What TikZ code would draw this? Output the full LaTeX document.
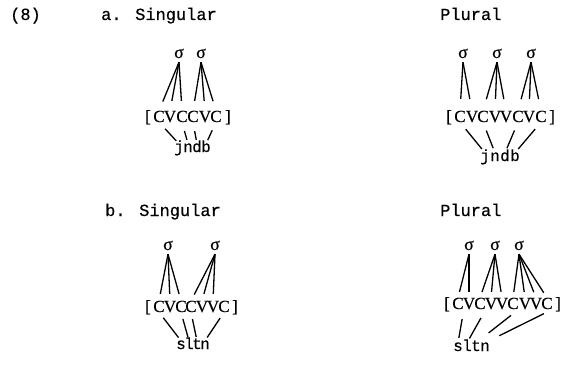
\documentclass[tikz,border=0pt]{standalone}
\usepackage{fontspec}
\setmainfont[FakeBold=0.5]{Liberation Mono}
\newfontfamily\segfont[FakeBold=0.4]{Liberation Serif}

\tikzset{
  hdr/.style={anchor=base west,inner sep=0pt,font=\fontsize{17}{20}\selectfont},
  syl/.style={anchor=base,inner sep=0pt,text height=8pt,text depth=4pt,
    font=\segfont\fontsize{18}{20}\selectfont},
  seg/.style={anchor=base,inner sep=0pt,text height=11pt,text depth=0pt,
    font=\segfont\fontsize{17}{20}\selectfont},
  root/.style={anchor=base,inner sep=0pt,text height=8pt,text depth=0pt,
    font=\fontsize{16}{20}\selectfont},
  link/.style={line width=1.3pt,shorten >=10pt},
  tie/.style={line width=1.3pt,shorten <=9pt,shorten >=4pt}
}

\begin{document}
\begin{tikzpicture}[x=1pt,y=-1pt]
 \useasboundingbox (0,0) rectangle (568,369);
 % headings
 \node[hdr] (num) at (10,20) {(8)};
 \node[hdr] (ahd) at (101,20) {a. Singular};
 \node[hdr] (aph) at (440,20) {Plural};
 \node[hdr] (bhd) at (105,216) {b. Singular};
 \node[hdr] (bph) at (440,216) {Plural};

 % a. singular
 \node[syl] (asS1) at (179,58) {σ};
 \node[syl] (asS2) at (201,58) {σ};
 \node[seg] (asL) at (148,122) {[};
 \foreach \tx/\x [count=\i] in {C/159,V/170,C/182,C/193,V/205,C/216}
   \node[seg] (as\i) at (\x,122) {\tx};
 \node[seg] (asR) at (228,122) {]};
 \foreach \tx/\x [count=\i] in {j/179,n/188,d/197,b/206}
   \node[root] (asr\i) at (\x,152) {\tx};
 \foreach \sy/\sg in {1/1,1/2,1/3,2/4,2/5,2/6}
   \draw[link] (asS\sy.south) -- (as\sg.north);
 \foreach \sg/\r in {1/1,3/2,4/3,6/4}
   \draw[tie] (as\sg.south) -- (asr\r.north);

 % a. plural
 \node[syl] (apS1) at (463,58) {σ};
 \node[syl] (apS2) at (497,58) {σ};
 \node[syl] (apS3) at (531,58) {σ};
 \node[seg] (apL) at (449,122) {[};
 \foreach \tx/\x [count=\i] in {C/460,V/472,C/483,V/495,V/506,C/518,V/529,C/541}
   \node[seg] (ap\i) at (\x,122) {\tx};
 \node[seg] (apR) at (552,122) {]};
 \foreach \tx/\x [count=\i] in {j/485,n/495,d/505,b/515}
   \node[root] (apr\i) at (\x,161) {\tx};
 \foreach \sy/\sg in {1/1,1/2,2/3,2/4,2/5,3/6,3/7,3/8}
   \draw[link,shorten >=12pt] (apS\sy.south) -- (ap\sg.north);
 \foreach \sg/\r in {1/1,3/2,6/3,8/4}
   \draw[tie,shorten >=5pt] (ap\sg.south) -- (apr\r.north);

 % b. singular
 \node[syl] (bsS1) at (168,250) {σ};
 \node[syl] (bsS2) at (215,250) {σ};
 \node[seg] (bsL) at (148,312) {[};
 \foreach \tx/\x [count=\i] in {C/159,V/170,C/181,C/191,V/202,V/213,C/224}
   \node[seg] (bs\i) at (\x,312) {\tx};
 \node[seg] (bsR) at (235,312) {]};
 \foreach \tx/\x [count=\i] in {s/181,l/189,t/197,n/205}
   \node[root] (bsr\i) at (\x,349) {\tx};
 \foreach \sy/\sg in {1/1,1/2,1/3,2/4,2/5,2/6}
   \draw[link,shorten >=7pt] (bsS\sy.south) -- (bs\sg.north);
 \foreach \sg/\r in {1/1,3/2,4/3,7/4}
   \draw[tie,shorten <=7pt] (bs\sg.south) -- (bsr\r.north);

 % b. plural
 \node[syl] (bpS1) at (469,250) {σ};
 \node[syl] (bpS2) at (495,250) {σ};
 \node[syl] (bpS3) at (519,250) {σ};
 \node[seg] (bpL) at (447,309) {[};
 \foreach \tx/\x [count=\i] in {C/458,V/469,C/480,V/491,V/502,C/513,V/525,V/536,C/547}
   \node[seg] (bp\i) at (\x,309) {\tx};
 \node[seg] (bpR) at (558,309) {]};
 \foreach \tx/\x [count=\i] in {s/458,l/467,t/476,n/485}
   \node[root] (bpr\i) at (\x,351) {\tx};
 \foreach \sy/\sg in {1/1,1/2,2/3,2/4,2/5,3/6,3/7,3/8,3/9}
   \draw[link,shorten >=6pt] (bpS\sy.south) -- (bp\sg.north);
 \foreach \sg/\r/\e in {1/1/5,3/2/5,6/3/16,9/4/16}
   \draw[tie,shorten <=10pt,shorten >=\e pt] (bp\sg.south east) -- (bpr\r.north);
\end{tikzpicture}
\end{document}
